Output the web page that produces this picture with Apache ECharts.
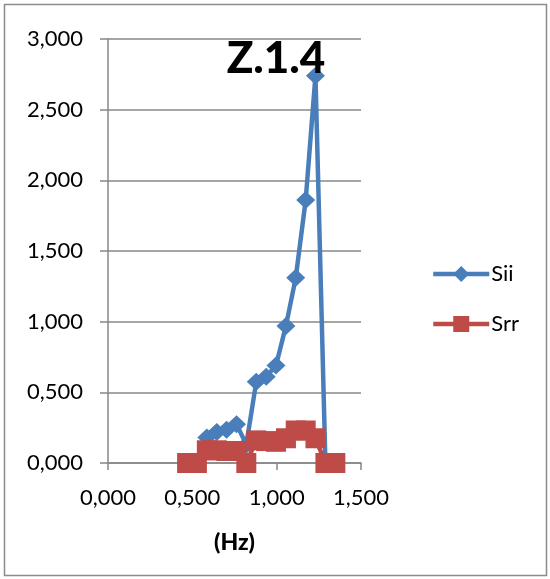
<!DOCTYPE html>
<html>
<head>
<meta charset="utf-8">
<script src="https://cdn.jsdelivr.net/npm/echarts@6/dist/echarts.min.js"></script>
<style>
  html, body { margin: 0; padding: 0; background: #fff; }
  #chart { width: 550px; height: 579px; }
</style>
</head>
<body>
<div id="chart"></div>
<script>
// Frequency bins (Hz) shared by both spectra
const freqHz = [0.469, 0.527, 0.586, 0.645, 0.703, 0.762, 0.820, 0.879,
                0.938, 0.996, 1.055, 1.113, 1.172, 1.230, 1.289, 1.348];
// Incident spectrum
const sii = [0, 0, 0.18, 0.22, 0.235, 0.275, 0.13, 0.575,
             0.61, 0.69, 0.97, 1.31, 1.86, 2.74, 0, 0];
// Reflected spectrum
const srr = [0, 0, 0.09, 0.09, 0.085, 0.085, 0, 0.16,
             0.155, 0.15, 0.175, 0.23, 0.23, 0.175, 0, 0];

const xTickLabels = ['0,000', '0,500', '1,000', '1,500'];
const yTickLabels = ['0,000', '0,500', '1,000', '1,500', '2,000', '2,500', '3,000'];

const FONT = 'Lato, "Open Sans", sans-serif';
const GRID_GRAY = '#878787';
const BLUE = '#4A7EBB';
const RED = '#BE4B48';

const pairs = (xs, ys) => xs.map((x, i) => [x, ys[i]]);
const tickLabel = (labels) => (v) => labels[Math.round(v / 0.5)];

const chart = echarts.init(document.getElementById('chart'));
chart.setOption({
  animation: false,
  backgroundColor: '#fff',
  textStyle: { fontFamily: FONT },
  grid: { left: 108, right: 189, top: 39, bottom: 116 },
  graphic: [
    {
      type: 'rect',
      shape: { x: 4.5, y: 4.5, width: 542, height: 571 },
      style: { fill: 'none', stroke: '#8c8c8c', lineWidth: 1.5 },
      silent: true
    },
    {
      type: 'text',
      x: 276, y: 59,
      style: {
        text: 'Z.1.4',
        font: '900 44px ' + FONT,
        fill: '#000',
        textAlign: 'center',
        textVerticalAlign: 'middle'
      },
      z: 10
    }
  ],
  legend: {
    orient: 'vertical',
    left: 431,
    top: 263,
    padding: 0,
    itemWidth: 56,
    itemHeight: 20,
    itemGap: 28,
    lineStyle: { width: 4.5 },
    textStyle: { fontFamily: FONT, fontSize: 22, color: '#000', padding: [0, 0, 0, -3] },
    data: ['Sii', 'Srr']
  },
  xAxis: {
    type: 'value',
    min: 0, max: 1.5, interval: 0.5,
    name: '(Hz)',
    nameLocation: 'middle',
    nameGap: 68,
    nameTextStyle: { fontFamily: FONT, fontSize: 23, fontWeight: 900, color: '#000' },
    axisLine: { show: true, lineStyle: { color: GRID_GRAY, width: 1.5 } },
    axisTick: { show: true, length: 7, lineStyle: { color: GRID_GRAY, width: 1.5 } },
    axisLabel: { formatter: tickLabel(xTickLabels), fontFamily: FONT, fontSize: 22, color: '#000', margin: 24 },
    splitLine: { show: false }
  },
  yAxis: {
    type: 'value',
    min: 0, max: 3, interval: 0.5,
    axisLine: { show: true, lineStyle: { color: GRID_GRAY, width: 1.5 } },
    axisTick: { show: true, length: 8, lineStyle: { color: GRID_GRAY, width: 1.5 } },
    axisLabel: { formatter: tickLabel(yTickLabels), fontFamily: FONT, fontSize: 22, color: '#000', margin: 25 },
    splitLine: { show: true, lineStyle: { color: GRID_GRAY, width: 1.5 } }
  },
  series: [
    {
      name: 'Sii',
      type: 'line',
      data: pairs(freqHz, sii),
      symbol: 'diamond',
      symbolSize: [19, 18],
      color: BLUE,
      lineStyle: { color: BLUE, width: 4.5 },
      itemStyle: { color: BLUE },
      z: 2
    },
    {
      name: 'Srr',
      type: 'line',
      data: pairs(freqHz, srr),
      symbol: 'rect',
      symbolSize: 20,
      color: RED,
      lineStyle: { color: RED, width: 4.5 },
      itemStyle: { color: RED },
      z: 3
    }
  ]
});
</script>
</body>
</html>
